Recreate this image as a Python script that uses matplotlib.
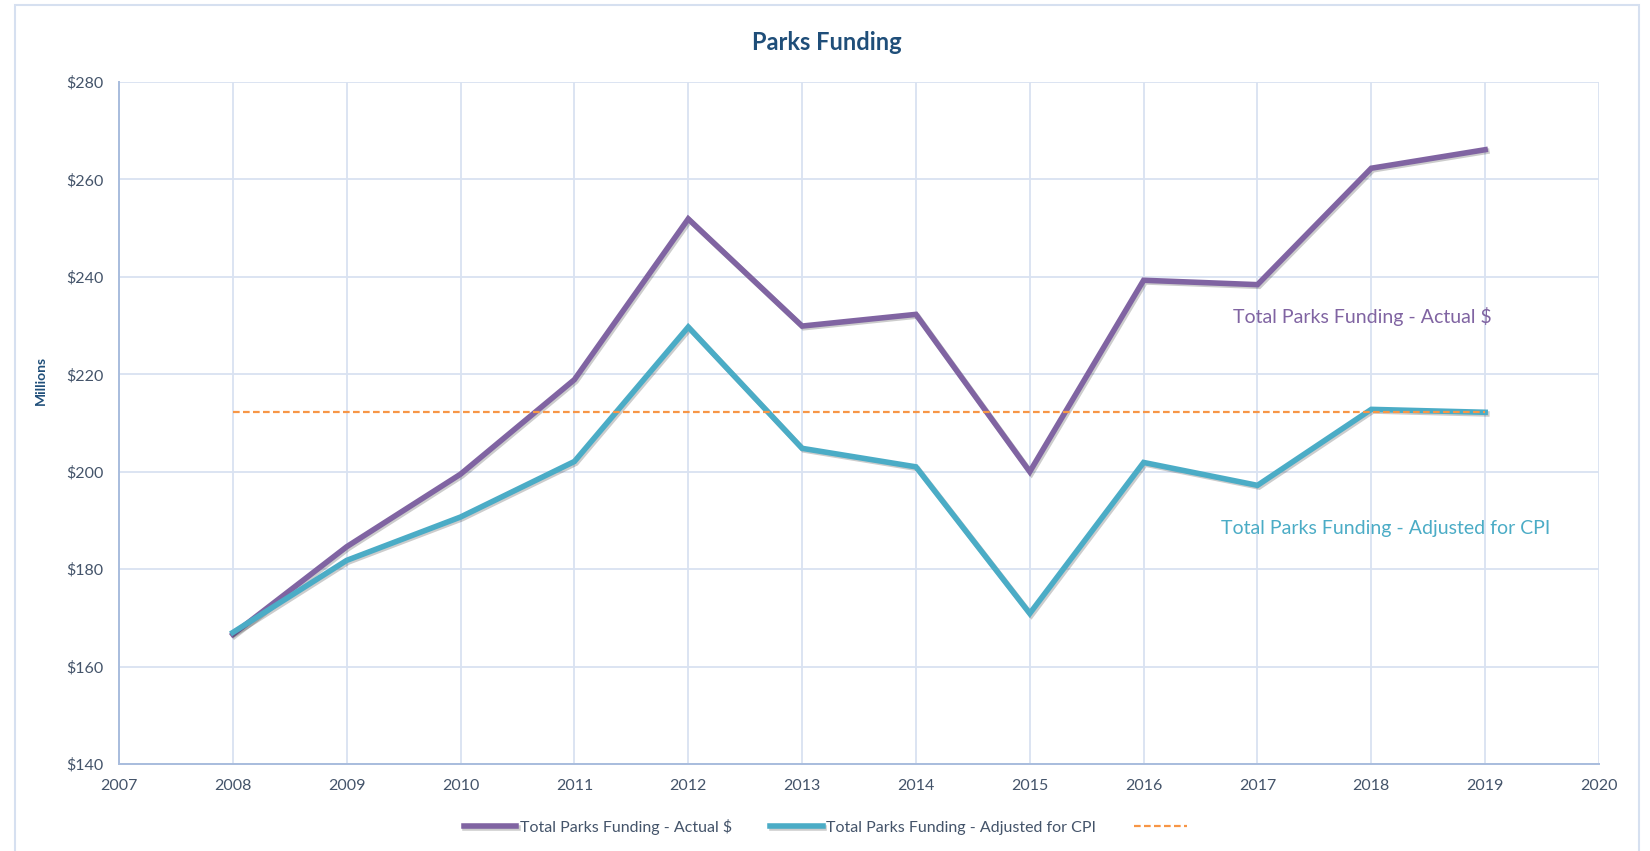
import numpy as np
import matplotlib
matplotlib.use("Agg")
import matplotlib.pyplot as plt
import matplotlib.patheffects as pe
from matplotlib.patches import Rectangle

# Values ($ millions)
years = [2008, 2009, 2010, 2011, 2012, 2013, 2014, 2015, 2016, 2017, 2018, 2019]
actual = [166.6, 184.6, 199.5, 218.9, 251.9, 229.9, 232.3, 200.0, 239.3, 238.4, 262.3, 266.1]
adjusted = [167.0, 181.8, 190.7, 202.1, 229.7, 204.8, 201.0, 170.9, 201.9, 197.2, 212.8, 212.2]
reference_level = 212.2

label_actual = "Total Parks Funding - Actual $"
label_adjusted = "Total Parks Funding - Adjusted for CPI"

purple = "#8064A2"
teal = "#4BACC6"
orange = "#F79646"
text_blue = "#44546A"
grid_blue = "#D9E2F1"

plt.rcParams['font.family'] = ['Lato', 'DejaVu Sans']

fig = plt.figure(figsize=(16.5, 8.51), dpi=100)
ax = fig.add_axes([119 / 1650, 1 - 764 / 851, 1480 / 1650, 682 / 851])

shadow = [pe.SimpleLineShadow(offset=(1.2, -1.2), alpha=0.2), pe.Normal()]
l1, = ax.plot(years, actual, color=purple, lw=4, solid_joinstyle='miter',
              path_effects=shadow, zorder=3)
l2, = ax.plot(years, adjusted, color=teal, lw=4, solid_joinstyle='miter',
              path_effects=shadow, zorder=3)
l3, = ax.plot([years[0], years[-1]], [reference_level, reference_level],
              color=orange, lw=1.6, ls=(0, (3, 1.5)), zorder=4)

ax.set_xlim(2007, 2020)
ax.set_ylim(140, 280)
ax.set_xticks(range(2007, 2021))
ax.set_yticks(range(140, 281, 20))
ax.set_yticklabels([f"${v}" for v in range(140, 281, 20)])
ax.grid(True, color=grid_blue, lw=1.3)
ax.set_axisbelow(True)
for s in ['top', 'right']:
    ax.spines[s].set_visible(False)
for s in ['left', 'bottom']:
    ax.spines[s].set_color("#A8BCDD")
    ax.spines[s].set_linewidth(1.4)
ax.tick_params(length=0, labelsize=11.5, labelcolor=text_blue)
ax.tick_params(axis='x', pad=11)
ax.tick_params(axis='y', pad=11)

ax.set_ylabel("Millions", fontsize=10, fontweight='bold', color="#1F4E79")
ax.yaxis.set_label_coords(-(119 - 47) / 1480, (764 - 380) / 682)

ax.text(2017.92, 231.9, label_actual, color=purple, fontsize=14,
        ha='center', va='center', zorder=5)
ax.text(2018.13, 188.4, label_adjusted, color=teal, fontsize=14,
        ha='center', va='center', zorder=5)

fig.text(827 / 1650, 1 - 42 / 851, "Parks Funding", fontsize=17,
         fontweight='bold', color="#1F4E79", ha='center', va='center')

leg = fig.legend([l1, l2, l3], [label_actual, label_adjusted, ""],
                 loc='center', bbox_to_anchor=(827 / 1650, 1 - 827 / 851),
                 ncol=3, frameon=False, fontsize=11.5, labelcolor=text_blue,
                 handlelength=3.3, handletextpad=0.2, columnspacing=2.4)

# outer chart border
fig.patches.append(Rectangle((15 / 1650, -0.05), 1624 / 1650, 1.05 - 5 / 851,
                             transform=fig.transFigure, fill=False,
                             edgecolor="#D6E0F0", lw=1.5))

fig.savefig("out.png", dpi=100)
